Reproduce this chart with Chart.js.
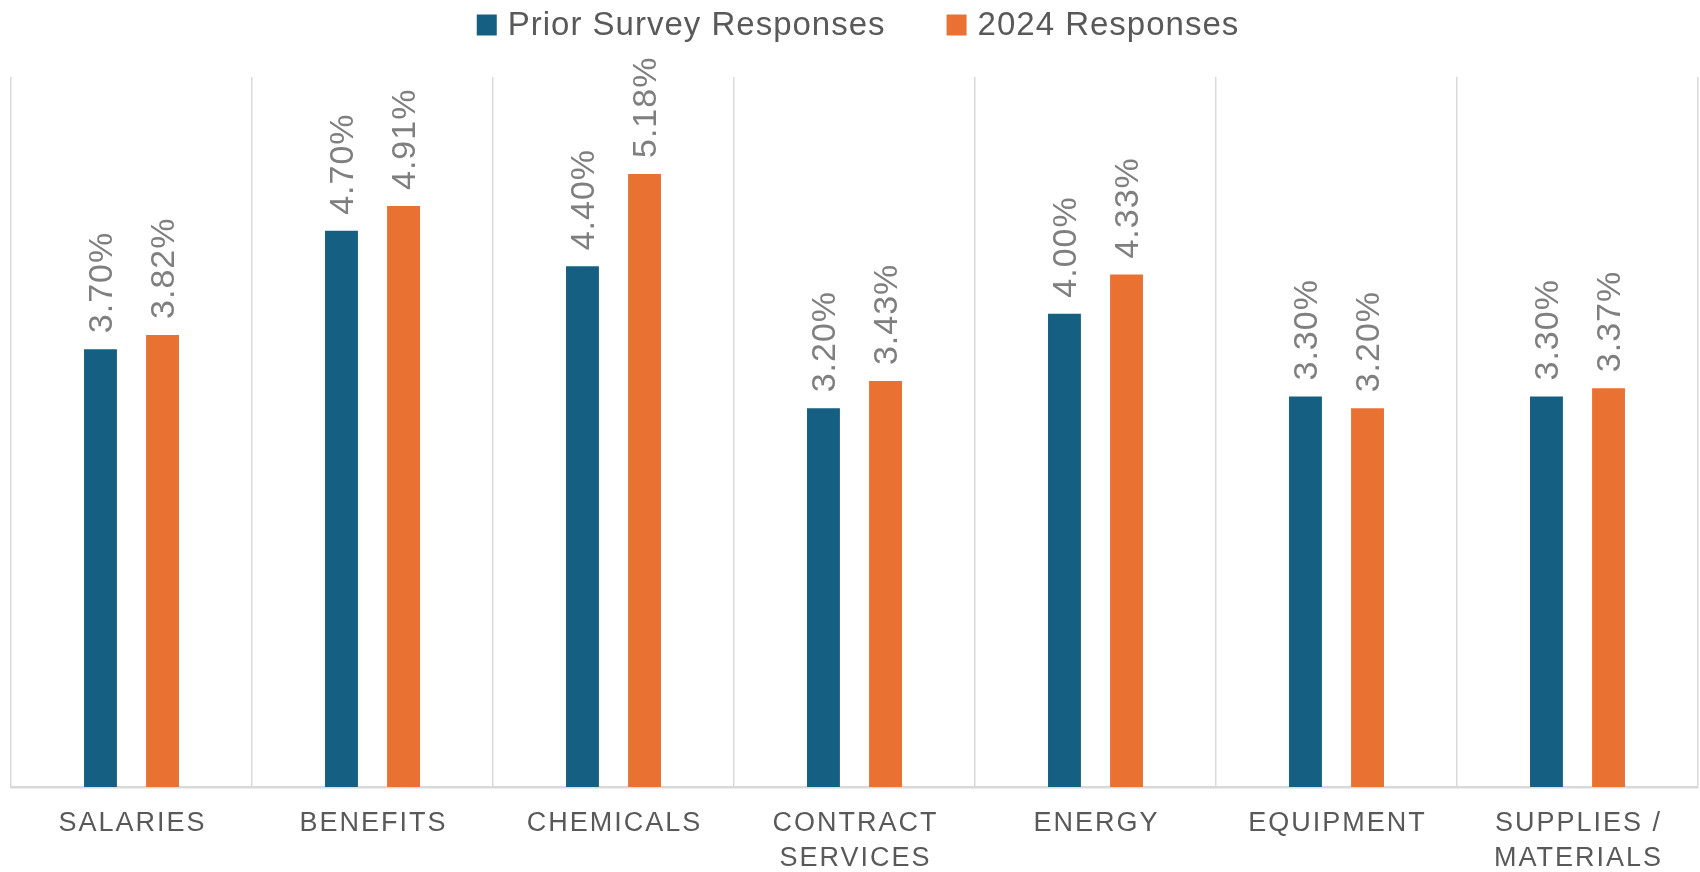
<!DOCTYPE html>
<html>
<head>
<meta charset="utf-8">
<script src="https://cdn.jsdelivr.net/npm/chart.js@4.4.1/dist/chart.umd.min.js"></script>
<style>
  html, body { margin: 0; padding: 0; background: #ffffff; }
  #wrap { width: 1700px; height: 872px; position: relative; }
</style>
</head>
<body>
<div id="wrap"><canvas id="costChart"></canvas></div>
<script>
// Categorías y valores
const categories = [
  "SALARIES",
  "BENEFITS",
  "CHEMICALS",
  ["CONTRACT", "SERVICES"],
  "ENERGY",
  "EQUIPMENT",
  ["SUPPLIES /", "MATERIALS"],
];
const priorValues = [3.7, 4.7, 4.4, 3.2, 4.0, 3.3, 3.3];
const values2024 = [3.82, 4.91, 5.18, 3.43, 4.33, 3.2, 3.37];
const seriesNames = ["Prior Survey Responses", "2024 Responses"];
const seriesColors = ["#156082", "#E97132"];

// Etiquetas de valor, eje X y leyenda dibujados a mano
const extrasPlugin = {
  id: "extras",
  afterDatasetsDraw(chart) {
    const ctx = chart.ctx;
    chart.data.datasets.forEach((ds, i) => {
      chart.getDatasetMeta(i).data.forEach((bar, j) => {
        ctx.save();
        ctx.translate(bar.x, bar.y - 16);
        ctx.rotate(-Math.PI / 2);
        ctx.font = '34px "Liberation Sans", Arial, sans-serif';
        ctx.letterSpacing = "1px";
        ctx.fillStyle = "#7f7f7f";
        ctx.textAlign = "left";
        ctx.textBaseline = "middle";
        ctx.fillText(ds.data[j].toFixed(2) + "%", 0, 2);
        ctx.restore();
      });
    });
  },
  afterDraw(chart) {
    const ctx = chart.ctx;
    const xs = chart.scales.x;
    const bottom = chart.chartArea.bottom;

    // Etiquetas del eje X
    ctx.save();
    ctx.font = '27px "Liberation Sans", Arial, sans-serif';
    ctx.letterSpacing = "2px";
    ctx.fillStyle = "#595959";
    ctx.textAlign = "center";
    ctx.textBaseline = "middle";
    categories.forEach((cat, i) => {
      const x = xs.getPixelForValue(i);
      const lines = Array.isArray(cat) ? cat : [cat];
      lines.forEach((line, k) => {
        ctx.fillText(line, x + 1, bottom + 37 + k * 35);
      });
    });
    ctx.restore();

    // Leyenda
    ctx.save();
    ctx.font = '33px "Liberation Sans", Arial, sans-serif';
    ctx.letterSpacing = "1px";
    ctx.textBaseline = "middle";
    ctx.textAlign = "left";
    const boxW = 20, boxH = 21, gapText = 11, gapItem = 61;
    const widths = seriesNames.map((n) => ctx.measureText(n).width);
    const total = widths.reduce((a, w) => a + boxW + gapText + w, 0) + gapItem;
    let x = chart.width / 2 + 8 - total / 2;
    const cy = 25;
    seriesNames.forEach((name, i) => {
      ctx.fillStyle = seriesColors[i];
      ctx.fillRect(x, cy - boxH / 2, boxW, boxH);
      ctx.fillStyle = "#595959";
      ctx.fillText(name, x + boxW + gapText, cy + 1);
      x += boxW + gapText + widths[i] + gapItem;
    });
    ctx.restore();
  },
};

const ctx = document.getElementById("costChart").getContext("2d");
new Chart(ctx, {
  type: "bar",
  data: {
    labels: categories,
    datasets: [
      {
        label: seriesNames[0],
        data: priorValues,
        backgroundColor: seriesColors[0],
        categoryPercentage: 0.515,
        barPercentage: 0.53,
      },
      {
        label: seriesNames[1],
        data: values2024,
        backgroundColor: seriesColors[1],
        categoryPercentage: 0.515,
        barPercentage: 0.53,
      },
    ],
  },
  options: {
    responsive: true,
    maintainAspectRatio: false,
    animation: false,
    layout: {
      padding: { left: 11, right: 2, top: 77, bottom: 85 },
    },
    plugins: {
      legend: { display: false },
      tooltip: { enabled: false },
    },
    scales: {
      x: {
        ticks: { display: false },
        grid: {
          color: "#d9d9d9",
          lineWidth: 1.5,
          drawTicks: false,
          offset: true,
        },
        border: { color: "#d9d9d9", width: 2.5 },
      },
      y: {
        display: false,
        min: 0,
        max: 6,
      },
    },
  },
  plugins: [extrasPlugin],
});
</script>
</body>
</html>
